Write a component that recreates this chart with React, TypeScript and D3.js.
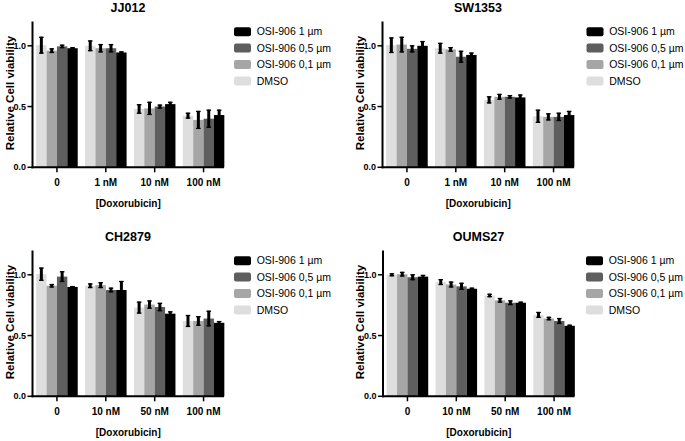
import React from "react";
import * as d3 from "d3";

const seriesNames = ["DMSO", "OSI-906 0,1 µm", "OSI-906 0,5 µm", "OSI-906 1 µm"];
const seriesColors = ["#dedede", "#a6a6a6", "#5e5e5e", "#000000"];
const legendOrder = [3, 2, 1, 0];

const groupsA = ["0", "1 nM", "10 nM", "100 nM"];
const groupsB = ["0", "10 nM", "50 nM", "100 nM"];
const yTicks = [0, 0.5, 1.0];

// rows = series (DMSO, 0.1, 0.5, 1), cols = dose groups
const jj012Means = [
  [1.005, 1.0, 0.48, 0.425],
  [0.96, 0.98, 0.485, 0.39],
  [0.995, 0.98, 0.5, 0.4],
  [0.98, 0.945, 0.52, 0.43],
];
const jj012Err = [
  [0.065, 0.04, 0.035, 0.02],
  [0.015, 0.03, 0.05, 0.07],
  [0.01, 0.03, 0.012, 0.07],
  [0.005, 0.005, 0.015, 0.04],
];

const sw1353Means = [
  [1.005, 0.98, 0.555, 0.42],
  [1.01, 0.97, 0.58, 0.415],
  [0.975, 0.91, 0.58, 0.415],
  [1.0, 0.925, 0.575, 0.43],
];
const sw1353Err = [
  [0.06, 0.04, 0.025, 0.05],
  [0.06, 0.015, 0.02, 0.025],
  [0.025, 0.045, 0.01, 0.03],
  [0.035, 0.015, 0.02, 0.03],
];

const ch2879Means = [
  [1.005, 0.91, 0.73, 0.62],
  [0.91, 0.915, 0.755, 0.62],
  [0.985, 0.875, 0.735, 0.64],
  [0.9, 0.875, 0.68, 0.605],
];
const ch2879Err = [
  [0.05, 0.015, 0.045, 0.045],
  [0.01, 0.02, 0.03, 0.035],
  [0.04, 0.015, 0.03, 0.06],
  [0.003, 0.07, 0.015, 0.01],
];

const oums27Means = [
  [1.0, 0.94, 0.83, 0.67],
  [1.005, 0.92, 0.79, 0.64],
  [0.98, 0.905, 0.77, 0.62],
  [0.985, 0.885, 0.77, 0.58],
];
const oums27Err = [
  [0.008, 0.02, 0.01, 0.02],
  [0.015, 0.02, 0.015, 0.01],
  [0.02, 0.025, 0.015, 0.02],
  [0.01, 0.005, 0.005, 0.005],
];

const panels = [
  { title: "JJ012", groups: groupsA, means: jj012Means, errs: jj012Err, dx: 0, dy: 0, legendX: 234 },
  { title: "SW1353", groups: groupsA, means: sw1353Means, errs: sw1353Err, dx: 350, dy: 0, legendX: 236.5 },
  { title: "CH2879", groups: groupsB, means: ch2879Means, errs: ch2879Err, dx: 0, dy: 229, legendX: 234 },
  { title: "OUMS27", groups: groupsB, means: oums27Means, errs: oums27Err, dx: 350.5, dy: 229, legendX: 235.5 },
];

const FONT = "'Liberation Sans', Arial, Helvetica, sans-serif";

function Panel({ p }: { p: (typeof panels)[number] }) {
  const axisX = 32.5;
  const y = d3.scaleLinear().domain([0, 1.2]).range([167.3, 21.5]);
  const x0 = d3.scaleBand<string>().domain(p.groups).range([axisX, 228]).paddingInner(0.15).paddingOuter(0.075);
  const x1 = d3.scaleBand<number>().domain(d3.range(seriesNames.length)).range([0, x0.bandwidth()]);
  const cx = (axisX + 224) / 2;
  return (
    <g transform={`translate(${p.dx},${p.dy})`}>
      <text x={128} y={11.5} textAnchor="middle" fontFamily={FONT} fontWeight="bold" fontSize={12.5}>
        {p.title}
      </text>
      {p.groups.map((g, gi) =>
        seriesNames.map((_, si) => {
          const v = p.means[si][gi];
          const e = p.errs[si][gi];
          const bx = (x0(g) as number) + (x1(si) as number);
          const mid = bx + x1.bandwidth() / 2;
          return (
            <g key={`${gi}-${si}`}>
              <rect x={bx} y={y(v)} width={x1.bandwidth()} height={y(0) - y(v)} fill={seriesColors[si]} />
              <line x1={mid} x2={mid} y1={y(v + e) - 0.5} y2={y(v - e) + 0.5} stroke="#000" strokeWidth={3} />
              <line x1={mid - 2.3} x2={mid + 2.3} y1={y(v + e)} y2={y(v + e)} stroke="#000" strokeWidth={1.3} />
              <line x1={mid - 2.3} x2={mid + 2.3} y1={y(v - e)} y2={y(v - e)} stroke="#000" strokeWidth={1.3} />
            </g>
          );
        })
      )}
      {/* y axis */}
      <line x1={axisX} x2={axisX} y1={y(1.2)} y2={y(0) + 1} stroke="#000" strokeWidth={2} />
      {yTicks.map((t) => (
        <g key={t}>
          <line x1={axisX - 5} x2={axisX} y1={y(t)} y2={y(t)} stroke="#000" strokeWidth={1.5} />
          <text x={axisX - 6.5} y={y(t)} dy="0.35em" textAnchor="end" fontFamily={FONT} fontWeight="bold" fontSize={9}>
            {t.toFixed(1)}
          </text>
        </g>
      ))}
      {/* x axis */}
      <line x1={axisX - 1} x2={224} y1={y(0)} y2={y(0)} stroke="#000" strokeWidth={2} />
      {p.groups.map((g) => {
        const gx = (x0(g) as number) + x0.bandwidth() / 2;
        return (
          <g key={g}>
            <line x1={gx} x2={gx} y1={y(0)} y2={y(0) + 5} stroke="#000" strokeWidth={1.5} />
            <text x={gx} y={185.5} textAnchor="middle" fontFamily={FONT} fontWeight="bold" fontSize={10}>
              {g}
            </text>
          </g>
        );
      })}
      <text x={cx} y={207} textAnchor="middle" fontFamily={FONT} fontWeight="bold" fontSize={10}>
        [Doxorubicin]
      </text>
      <text
        transform={`translate(13.5,93) rotate(-90)`}
        textAnchor="middle"
        fontFamily={FONT}
        fontWeight="bold"
        fontSize={11.5}
      >
        Relative Cell viability
      </text>
      {legendOrder.map((si, i) => (
        <g key={si} transform={`translate(${p.legendX},${31.7 + i * 16.4})`}>
          <rect x={0} y={-4.5} width={17} height={9} rx={2} fill={seriesColors[si]} />
          <text x={22.7} y={0} dy="0.35em" fontFamily={FONT} fontSize={10.5}>
            {seriesNames[si]}
          </text>
        </g>
      ))}
    </g>
  );
}

export default function App() {
  return (
    <svg width={685} height={441} style={{ position: "absolute", left: 0, top: 0, background: "#fff" }}>
      <rect width={685} height={441} fill="#fff" />
      {panels.map((p) => (
        <Panel key={p.title} p={p} />
      ))}
    </svg>
  );
}
